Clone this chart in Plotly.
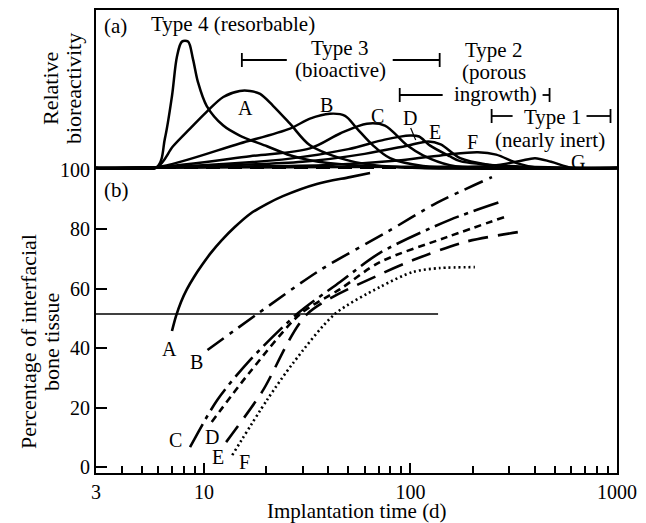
import plotly.graph_objects as go

# ---------------- data ----------------
# Panel (a): relative bioreactivity (baseline = 100), x = implantation time (d)
t4_x = [3, 5.9, 6.47, 7.0, 7.4, 7.82, 8.37, 8.85, 9.35, 10.3, 12.4, 14.9, 20.2, 26.1, 32.6, 50.9, 89, 200, 1000]
t4_y = [100, 100.5, 118.8, 145.6, 170.6, 180, 180, 168.8, 154.4, 139.4, 126.9, 120.6, 113.8, 108.1, 105, 101.9, 100.6, 100, 100]

a_act_x = [3, 5.9, 7.08, 8.56, 10.3, 12.4, 14.9, 16.7, 18.7, 21.6, 26.1, 32.6, 45.6, 65.8, 111, 1000]
a_act_y = [100, 100.5, 113.8, 125, 135.6, 145, 148.8, 148.8, 146.9, 139.4, 128.1, 114.4, 106.3, 101.9, 100, 100]

b_act_x = [3, 5.9, 14.9, 26.1, 32.6, 40.7, 48.2, 55.1, 65.8, 79.6, 115, 194, 1000]
b_act_y = [100, 100.5, 115.6, 125, 131.3, 134.4, 133.1, 125, 114.4, 106.3, 101.3, 100, 100]

c_act_x = [3, 5.9, 16.7, 32.6, 45.6, 61.5, 75.2, 96.2, 115, 155, 243, 1000]
c_act_y = [100, 100.5, 107.5, 112.5, 121.9, 128.1, 126.9, 114.4, 108.1, 101.9, 100, 100]

d_act_x = [3, 5.9, 26.1, 50, 75, 99.5, 110, 124, 155, 174, 293, 1000]
d_act_y = [100, 100.5, 106, 112, 118, 120.6, 120, 114.4, 107.5, 104.4, 101.3, 100]

e_act_x = [3, 5.9, 30, 60, 95, 122, 140, 174, 243, 340, 1000]
e_act_y = [100, 100.5, 104, 109, 114, 116.9, 115, 106.3, 101.9, 100, 100]

f_act_x = [3, 5.9, 40, 90, 150, 212, 260, 330, 420, 1000]
f_act_y = [100, 100.5, 102, 105, 108.5, 110, 108.5, 103, 100, 100]

g_act_x = [3, 5.9, 100, 250, 339, 401, 480, 612, 1000]
g_act_y = [100, 100.3, 100.8, 101.5, 104.5, 106.3, 104, 100, 100]

base_x = [3, 1000]
base_y = [100, 100]

# Panel (b): percentage of interfacial bone tissue
pa_x = [7.0, 7.32, 7.74, 8.27, 8.95, 9.78, 10.8, 12.2, 14.1, 16.7, 20.2, 24.1, 35.2, 50.9, 63.7]
pa_y = [45.8, 50.8, 55.6, 59.9, 64.0, 68.0, 72.1, 76.4, 80.8, 85.2, 88.6, 91.2, 95.3, 97.6, 99.0]

pb_x = [10.4, 18.1, 36.5, 76.9, 134, 248]
pb_y = [39.4, 51.5, 66.3, 79.1, 88.9, 97.6]

pc_x = [8.56, 11.6, 16.7, 28.2, 45.6, 71.1, 155, 271]
pc_y = [6.7, 22.6, 36.0, 51.5, 62.3, 72.1, 83.2, 89.2]

pd_x = [10.9, 16.7, 29.2, 45.6, 71.1, 150, 286]
pd_y = [15.2, 32.0, 51.5, 59.9, 69.0, 77.4, 84.2]

pe_x = [12.8, 19.1, 31.6, 73.6, 103, 184, 332]
pe_y = [8.4, 25.3, 51.5, 65.3, 69.7, 75.8, 79.1]

pf_x = [13.7, 20.2, 27, 43.0, 71.1, 103, 139, 205]
pf_y = [4.0, 22.6, 35, 51.5, 60.6, 65.7, 67.0, 67.3]

h_x = [3, 136]
h_y = [51.5, 51.5]

x_tickvals = [3, 10, 100, 1000]
x_ticktext = ["3", "10", "100", "1000"]
x_minor = [4, 5, 6, 7, 8, 9, 20, 30, 40, 50, 60, 70, 80, 90,
           200, 300, 400, 500, 600, 700, 800, 900]
y_tickvals = [0, 20, 40, 60, 80, 100]
y_ticktext = ["0", "20", "40", "60", "80", "100"]

# ---------------- figure ----------------
FONT = "Liberation Serif, Times New Roman, serif"
W, H = 646, 523
OFF = 8  # page offset of the figure inside the browser window
# target plot box in screen pixels: x 96..617.5, y 10..473
SX0, SX1, SY0, SY1 = 96, 617.5, 10, 473
L = SX0 - OFF
R = W - (SX1 - OFF)
T = SY0 - OFF
B = H - (SY1 - OFF)
PW, PH = SX1 - SX0, SY1 - SY0
split = (SY1 - 170) / PH


def P(px, py):
    """screen pixel of the reference -> paper coordinates"""
    return (px - SX0) / PW, (SY1 - py) / PH


fig = go.Figure()

for xs, ys in [(t4_x, t4_y), (a_act_x, a_act_y), (b_act_x, b_act_y), (c_act_x, c_act_y),
               (d_act_x, d_act_y), (e_act_x, e_act_y), (f_act_x, f_act_y), (g_act_x, g_act_y)]:
    fig.add_trace(go.Scatter(x=xs, y=ys, mode="lines", xaxis="x2", yaxis="y2",
                             line=dict(color="black", width=2.5, shape="spline", smoothing=0.9),
                             showlegend=False, hoverinfo="skip"))
fig.add_trace(go.Scatter(x=base_x, y=base_y, mode="lines", xaxis="x2", yaxis="y2",
                         line=dict(color="black", width=2, dash="14px,8px"),
                         showlegend=False, hoverinfo="skip"))

fig.add_trace(go.Scatter(x=h_x, y=h_y, mode="lines",
                         line=dict(color="black", width=1.5), showlegend=False))
styles = [
    (pa_x, pa_y, "solid"),
    (pb_x, pb_y, "20px,7px,4px,7px"),
    (pc_x, pc_y, "26px,6px,4px,6px"),
    (pd_x, pd_y, "7px,5px"),
    (pe_x, pe_y, "20px,10px"),
    (pf_x, pf_y, "2px,3px"),
]
for xs, ys, d in styles:
    fig.add_trace(go.Scatter(x=xs, y=ys, mode="lines",
                             line=dict(color="black", width=2.6, dash=d, shape="spline", smoothing=0.8),
                             showlegend=False, hoverinfo="skip"))

ann = []


def text(t, px, py, size=21, angle=0):
    x, y = P(px, py)
    ann.append(dict(text=t, x=x, y=y, xref="paper", yref="paper", showarrow=False,
                    xanchor="center", yanchor="middle", textangle=angle,
                    font=dict(family=FONT, size=size, color="black")))


text("(a)", 116, 26)
text("Type 4 (resorbable)", 233, 24)
text("Type 3", 340, 48)
text("(bioactive)", 341, 70)
text("Type 2", 494, 50)
text("(porous", 494, 72)
text("ingrowth)", 496, 94)
text("Type 1", 553, 117)
text("(nearly inert)", 550, 140)
for lab, px, py in [("A", 246, 108), ("B", 327, 105), ("C", 378, 116), ("D", 410, 118),
                    ("E", 435, 132), ("F", 473, 142), ("G", 578, 162)]:
    text(lab, px, py, 20)
text("(b)", 117, 190)
for lab, px, py in [("A", 170, 349), ("B", 197, 362), ("C", 176, 440), ("D", 212, 437),
                    ("E", 218, 457), ("F", 245, 462)]:
    text(lab, px, py, 20)
text("Implantation time (d)", 357, 511, 21)
text("Relative", 50, 89, 22, -90)
text("bioreactivity", 73, 89, 22, -90)
text("Percentage of interfacial", 28, 342, 22, -90)
text("bone tissue", 51, 342, 22, -90)

shapes = []


def seg(x0, y0, x1, y1, w=1.8):
    a0, b0 = P(x0, y0)
    a1, b1 = P(x1, y1)
    shapes.append(dict(type="line", xref="paper", yref="paper", x0=a0, y0=b0, x1=a1, y1=b1,
                       line=dict(color="black", width=w)))


# range brackets
seg(242, 60, 287, 60); seg(242, 53, 242, 67)
seg(393, 60, 440, 60); seg(440, 53, 440, 67)
seg(400, 95, 443, 95); seg(400, 88, 400, 102)
seg(543, 95, 550, 95); seg(550, 88, 550, 102)
seg(492, 116, 513, 116); seg(492, 109, 492, 123)
seg(587, 116, 611, 116); seg(611, 109, 611, 123)
seg(411, 128, 416, 140, 1.2)

axis_common = dict(showgrid=False, zeroline=False, linecolor="black", linewidth=2, automargin=False)

fig.update_layout(
    width=W, height=H,
    margin=dict(l=L, r=R, t=T, b=B, pad=0, autoexpand=False),
    paper_bgcolor="white", plot_bgcolor="white",
    font=dict(family=FONT, size=20, color="black"),
    showlegend=False,
    annotations=ann, shapes=shapes,
    xaxis=dict(type="log", range=[0.4771, 3.0], domain=[0, 1], anchor="y",
               showline=True, ticks="inside", ticklen=10, tickwidth=1.5, tickcolor="black",
               tickvals=x_tickvals, ticktext=x_ticktext,
               tickfont=dict(family=FONT, size=20),
               minor=dict(tickvals=x_minor, ticks="inside", ticklen=7, tickwidth=1.5, tickcolor="black"),
               **axis_common),
    yaxis=dict(range=[-2, 100], domain=[0, split], anchor="x",
               showline=True, mirror=True, ticks="inside", ticklen=11, tickwidth=1.5, tickcolor="black",
               tickvals=y_tickvals, ticktext=y_ticktext,
               tickfont=dict(family=FONT, size=20), **axis_common),
    xaxis2=dict(type="log", range=[0.4771, 3.0], domain=[0, 1], anchor="y2", side="top",
                showline=True, ticks="", showticklabels=False, **axis_common),
    yaxis2=dict(range=[98.8, 200], domain=[split, 1], anchor="x2",
                showline=True, mirror=True, ticks="", showticklabels=False, **axis_common),
)

fig.write_html("out.html")
